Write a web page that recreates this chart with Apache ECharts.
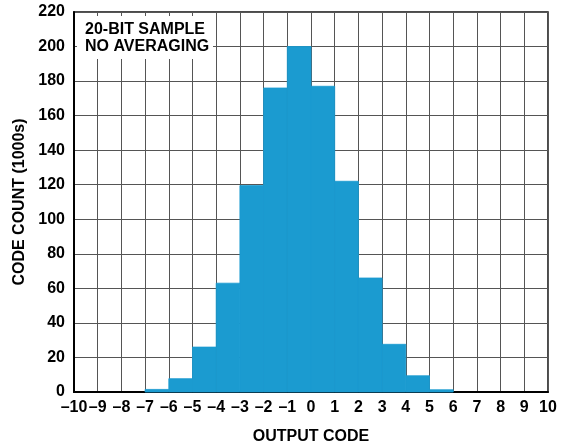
<!DOCTYPE html>
<html><head><meta charset="utf-8">
<script src="https://cdn.jsdelivr.net/npm/echarts@6/dist/echarts.min.js"></script>
<style>html,body{margin:0;padding:0;background:#fff}#c{width:563px;height:446px}</style>
</head><body><div id="c"></div>
<script>
// bin left edges (output code) and code counts (1000s)
const binStarts = [-7, -6, -5, -4, -3, -2, -1, 0, 1, 2, 3, 4, 5];
const counts    = [1.5, 7.7, 26, 63, 119.5, 176, 200, 177, 122, 66, 27.6, 9.4, 1.3];
const xTicks = [-10, 10, 1];
const yTicks = [0, 220, 20];
const labelLines = ['20-BIT SAMPLE', 'NO AVERAGING'];

const font = '"Liberation Sans", Arial, sans-serif';
const chart = echarts.init(document.getElementById('c'));
chart.setOption({
  animation: false,
  grid: { left: 74, right: 15, top: 12, bottom: 54, outerBoundsMode: 'none', containLabel: false,
    show: true, borderColor: '#111', borderWidth: 1.5, backgroundColor: 'transparent' },
  xAxis: {
    type: 'value', min: xTicks[0], max: xTicks[1], interval: xTicks[2],
    name: 'OUTPUT CODE', nameLocation: 'middle', nameGap: 37,
    nameTextStyle: { fontFamily: font, fontWeight: 'bold', fontSize: 16, color: '#000' },
    axisLine: { show: true, onZero: false, lineStyle: { color: '#000', width: 2 } },
    axisTick: { show: false },
    axisLabel: { fontFamily: font, fontWeight: 'bold', fontSize: 16, color: '#000', margin: 8, hideOverlap: false,
      formatter: v => String(v).replace('-', '\u2013') },
    splitLine: { show: true, lineStyle: { color: '#555', width: 1 } }
  },
  yAxis: {
    type: 'value', min: yTicks[0], max: yTicks[1], interval: yTicks[2],
    name: 'CODE COUNT (1000s)', nameLocation: 'middle', nameGap: 46,
    nameTextStyle: { fontFamily: font, fontWeight: 'bold', fontSize: 16, color: '#000' },
    axisLine: { show: true, onZero: false, lineStyle: { color: '#000', width: 2 } },
    axisTick: { show: false },
    axisLabel: { fontFamily: font, fontWeight: 'bold', fontSize: 16, color: '#000', margin: 9 },
    splitLine: { show: true, lineStyle: { color: '#555', width: 1 } }
  },
  series: [{
    type: 'custom',
    data: binStarts.map((s, i) => [s, counts[i]]),
    renderItem: function (params, api) {
      const x0 = api.value(0), y = api.value(1);
      const p0 = api.coord([x0, 0]);
      const p1 = api.coord([x0 + 1, y]);
      return { type: 'rect', shape: { x: p0[0], y: p1[1], width: p1[0] - p0[0], height: p0[1] - p1[1] },
        style: { fill: '#1b9bd0', stroke: '#1b9bd0', lineWidth: 0.8 } };
    }
  }],
  graphic: [
    { type: 'rect', left: 77, top: 16, shape: { width: 136, height: 43 }, style: { fill: '#fff' }, z: 100 },
    { type: 'text', left: 85, top: 21, z: 101,
      style: { text: labelLines.join('\n'), fontFamily: font, fontWeight: 'bold', fontSize: 16, lineHeight: 17, fill: '#000' } }
  ]
});
</script></body></html>
